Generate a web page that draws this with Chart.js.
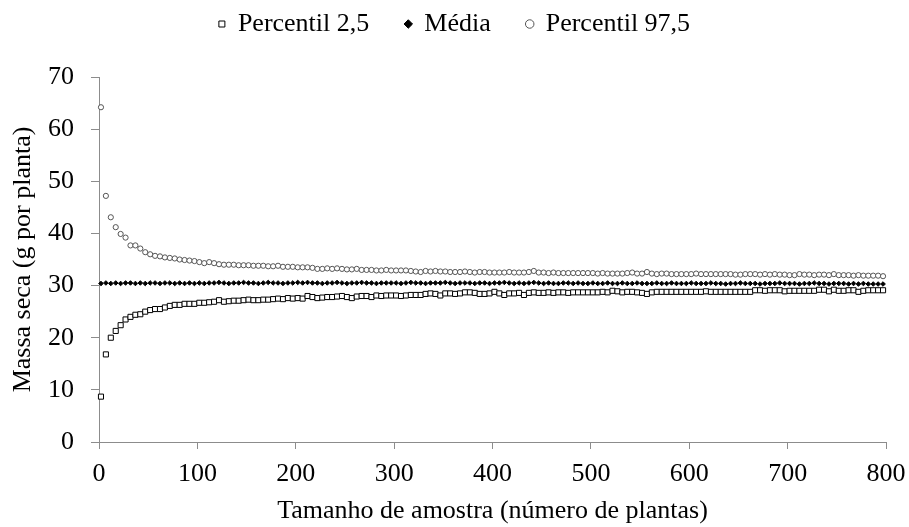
<!DOCTYPE html>
<html>
<head>
<meta charset="utf-8">
<script src="https://cdn.jsdelivr.net/npm/chart.js@4/dist/chart.umd.min.js"></script>
<style>
  body { margin: 0; background: #fff; }
</style>
</head>
<body>
<canvas id="grafico" width="909" height="527"></canvas>
<script>
// tamanhos de amostra (eixo x)
const tamanhos = [
  2, 7, 12, 17, 22, 27, 32, 37, 42, 47, 52, 57, 62, 67, 72, 77, 82, 87, 92, 97,
  102, 107, 112, 117, 122, 127, 132, 137, 142, 147, 152, 157, 162, 167, 172, 177, 182, 187, 192, 197,
  202, 207, 212, 217, 222, 227, 232, 237, 242, 247, 252, 257, 262, 267, 272, 277, 282, 287, 292, 297,
  302, 307, 312, 317, 322, 327, 332, 337, 342, 347, 352, 357, 362, 367, 372, 377, 382, 387, 392, 397,
  402, 407, 412, 417, 422, 427, 432, 437, 442, 447, 452, 457, 462, 467, 472, 477, 482, 487, 492, 497,
  502, 507, 512, 517, 522, 527, 532, 537, 542, 547, 552, 557, 562, 567, 572, 577, 582, 587, 592, 597,
  602, 607, 612, 617, 622, 627, 632, 637, 642, 647, 652, 657, 662, 667, 672, 677, 682, 687, 692, 697,
  702, 707, 712, 717, 722, 727, 732, 737, 742, 747, 752, 757, 762, 767, 772, 777, 782, 787, 792, 797
];

const percentil25 = [
  8.7, 16.8, 20.0, 21.3, 22.4, 23.5, 24.0, 24.4, 24.5, 25.0, 25.3, 25.5, 25.5, 25.8, 26.1, 26.3, 26.3, 26.5, 26.5, 26.5,
  26.7, 26.7, 26.8, 26.9, 27.2, 26.9, 27.0, 27.1, 27.1, 27.2, 27.3, 27.2, 27.2, 27.3, 27.3, 27.4, 27.5, 27.4, 27.6, 27.5,
  27.6, 27.5, 28.0, 27.8, 27.6, 27.7, 27.8, 27.8, 27.9, 28.0, 27.8, 27.6, 27.9, 28.0, 28.0, 27.8, 28.1, 28.0, 28.1, 28.1,
  28.1, 28.0, 28.1, 28.2, 28.2, 28.2, 28.4, 28.5, 28.4, 28.1, 28.5, 28.5, 28.4, 28.5, 28.7, 28.7, 28.6, 28.4, 28.4, 28.5,
  28.8, 28.5, 28.2, 28.5, 28.5, 28.6, 28.2, 28.6, 28.7, 28.6, 28.6, 28.7, 28.6, 28.7, 28.7, 28.6, 28.7, 28.7, 28.7, 28.7,
  28.7, 28.7, 28.8, 28.7, 29.0, 28.9, 28.7, 28.8, 28.8, 28.7, 28.6, 28.4, 28.7, 28.8, 28.8, 28.8, 28.8, 28.8, 28.8, 28.8,
  28.8, 28.8, 28.8, 28.9, 28.8, 28.8, 28.8, 28.8, 28.8, 28.8, 28.8, 28.8, 28.8, 29.1, 29.1, 29.0, 29.1, 29.1, 29.1, 28.9,
  29.0, 29.0, 29.0, 29.0, 29.0, 29.0, 29.2, 29.2, 28.9, 29.2, 29.0, 29.0, 29.1, 29.1, 28.8, 29.0, 29.1, 29.1, 29.1, 29.1
];

const media = [
  30.4, 30.5, 30.4, 30.5, 30.4, 30.5, 30.5, 30.4, 30.5, 30.4, 30.5, 30.5, 30.4, 30.5, 30.5, 30.4, 30.5, 30.4, 30.5, 30.4,
  30.5, 30.4, 30.5, 30.5, 30.6, 30.5, 30.4, 30.5, 30.5, 30.6, 30.5, 30.5, 30.4, 30.5, 30.6, 30.5, 30.5, 30.4, 30.5, 30.5,
  30.6, 30.5, 30.6, 30.5, 30.5, 30.4, 30.5, 30.5, 30.6, 30.5, 30.4, 30.5, 30.5, 30.6, 30.5, 30.5, 30.4, 30.5, 30.5, 30.5,
  30.5, 30.4, 30.5, 30.6, 30.5, 30.5, 30.4, 30.5, 30.5, 30.5, 30.6, 30.5, 30.4, 30.5, 30.5, 30.5, 30.4, 30.5, 30.5, 30.4,
  30.5, 30.5, 30.6, 30.5, 30.4, 30.5, 30.4, 30.5, 30.6, 30.5, 30.4, 30.5, 30.4, 30.4, 30.5, 30.5, 30.4, 30.5, 30.4, 30.4,
  30.5, 30.4, 30.4, 30.5, 30.4, 30.4, 30.5, 30.4, 30.4, 30.5, 30.4, 30.4, 30.4, 30.5, 30.4, 30.4, 30.5, 30.4, 30.4, 30.4,
  30.5, 30.4, 30.4, 30.4, 30.5, 30.4, 30.4, 30.3, 30.4, 30.4, 30.5, 30.4, 30.4, 30.4, 30.3, 30.4, 30.4, 30.4, 30.5, 30.4,
  30.4, 30.4, 30.3, 30.4, 30.4, 30.5, 30.4, 30.4, 30.3, 30.4, 30.4, 30.4, 30.3, 30.4, 30.3, 30.4, 30.3, 30.3, 30.3, 30.3
];

const percentil975 = [
  64.2, 47.2, 43.1, 41.2, 39.9, 39.2, 37.7, 37.7, 37.1, 36.4, 36.0, 35.7, 35.6, 35.4, 35.3, 35.2, 35.0, 34.9, 34.8, 34.7,
  34.5, 34.3, 34.5, 34.3, 34.1, 34.0, 34.0, 34.0, 33.9, 33.9, 33.9, 33.8, 33.8, 33.8, 33.7, 33.7, 33.8, 33.6, 33.6, 33.6,
  33.5, 33.5, 33.5, 33.4, 33.2, 33.2, 33.3, 33.2, 33.3, 33.2, 33.1, 33.1, 33.2, 33.0, 33.0, 33.0, 32.9, 32.9, 33.0, 32.9,
  32.9, 32.9, 32.9, 32.8, 32.7, 32.6, 32.8, 32.7, 32.8, 32.7, 32.7, 32.6, 32.6, 32.6, 32.7, 32.6, 32.5, 32.6, 32.6, 32.5,
  32.5, 32.5, 32.5, 32.6, 32.5, 32.5, 32.5, 32.6, 32.8, 32.5, 32.5, 32.4, 32.5, 32.4, 32.4, 32.4, 32.4, 32.4, 32.4, 32.4,
  32.4, 32.3, 32.4, 32.3, 32.3, 32.3, 32.3, 32.4, 32.5, 32.3, 32.3, 32.6, 32.3, 32.2, 32.3, 32.3, 32.2, 32.2, 32.2, 32.2,
  32.2, 32.3, 32.2, 32.2, 32.2, 32.2, 32.2, 32.2, 32.2, 32.1, 32.1, 32.2, 32.2, 32.2, 32.1, 32.2, 32.1, 32.2, 32.1, 32.1,
  32.0, 32.0, 32.2, 32.1, 32.1, 32.0, 32.1, 32.1, 32.0, 32.2, 32.0, 32.0, 32.0, 31.9, 32.0, 31.9, 31.9, 31.9, 31.9, 31.8
];

const ticksX = [0, 100, 200, 300, 400, 500, 600, 700, 800];
const ticksY = [0, 10, 20, 30, 40, 50, 60, 70];

const fonte = 'Liberation Serif, Times New Roman, serif';
const cinza = '#8c8c8c';

function pontos(valores) {
  return tamanhos.map((x, i) => ({ x: x, y: valores[i] }));
}

// ajusta a altura da legenda para posicionar a área do gráfico
const ajusteLegenda = {
  id: 'ajusteLegenda',
  beforeInit(chart) {
    const fitOriginal = chart.legend.fit;
    chart.legend.fit = function() {
      fitOriginal.bind(chart.legend)();
      this.height = 102;
    };
  }
};

new Chart(document.getElementById('grafico'), {
  type: 'scatter',
  data: {
    datasets: [
      {
        label: 'Percentil 2,5',
        data: pontos(percentil25),
        pointStyle: 'rect',
        pointRadius: 3.6,
        borderWidth: 1,
        borderColor: '#000',
        backgroundColor: '#fff',
        clip: false
      },
      {
        label: 'Média',
        data: pontos(media),
        pointStyle: 'rectRot',
        pointRadius: 2.3,
        borderWidth: 1,
        borderColor: '#000',
        backgroundColor: '#000',
        clip: false
      },
      {
        label: 'Percentil 97,5',
        data: pontos(percentil975),
        pointStyle: 'circle',
        pointRadius: 2.6,
        borderWidth: 1,
        borderColor: '#555',
        backgroundColor: '#fff',
        clip: false
      }
    ]
  },
  options: {
    responsive: false,
    animation: false,
    layout: { padding: { top: -25, left: 0, right: 0, bottom: 0 } },
    plugins: {
      tooltip: { enabled: false },
      legend: {
        position: 'top',
        labels: {
          usePointStyle: true,
          boxWidth: 6,
          boxHeight: 6,
          padding: 36,
          color: '#000',
          font: { family: fonte, size: 26 }
        }
      }
    },
    scales: {
      x: {
        type: 'linear',
        min: 0,
        max: 800,
        afterBuildTicks: s => { s.ticks = ticksX.map(v => ({ value: v })); },
        afterFit: s => {
          s.height = 85;
          s.paddingLeft = 0;
          s.paddingRight = 23;
        },
        grid: { drawOnChartArea: false, drawTicks: true, tickLength: 7, color: cinza },
        border: { color: cinza },
        ticks: { color: '#000', padding: 10, font: { family: fonte, size: 26 } },
        title: {
          display: true,
          text: 'Tamanho de amostra (número de plantas)',
          color: '#000',
          padding: 0,
          font: { family: fonte, size: 26 }
        }
      },
      y: {
        min: 0,
        max: 70,
        afterBuildTicks: s => { s.ticks = ticksY.map(v => ({ value: v })); },
        afterFit: s => { s.width = 99; },
        grid: { drawOnChartArea: false, drawTicks: true, tickLength: 8, color: cinza },
        border: { color: cinza },
        ticks: { color: '#000', padding: 17, font: { family: fonte, size: 26 } },
        title: {
          display: true,
          text: 'Massa seca (g por planta)',
          color: '#000',
          padding: { top: 8, bottom: 0 },
          font: { family: fonte, size: 26 }
        }
      }
    }
  },
  plugins: [ajusteLegenda]
});
</script>
</body>
</html>
